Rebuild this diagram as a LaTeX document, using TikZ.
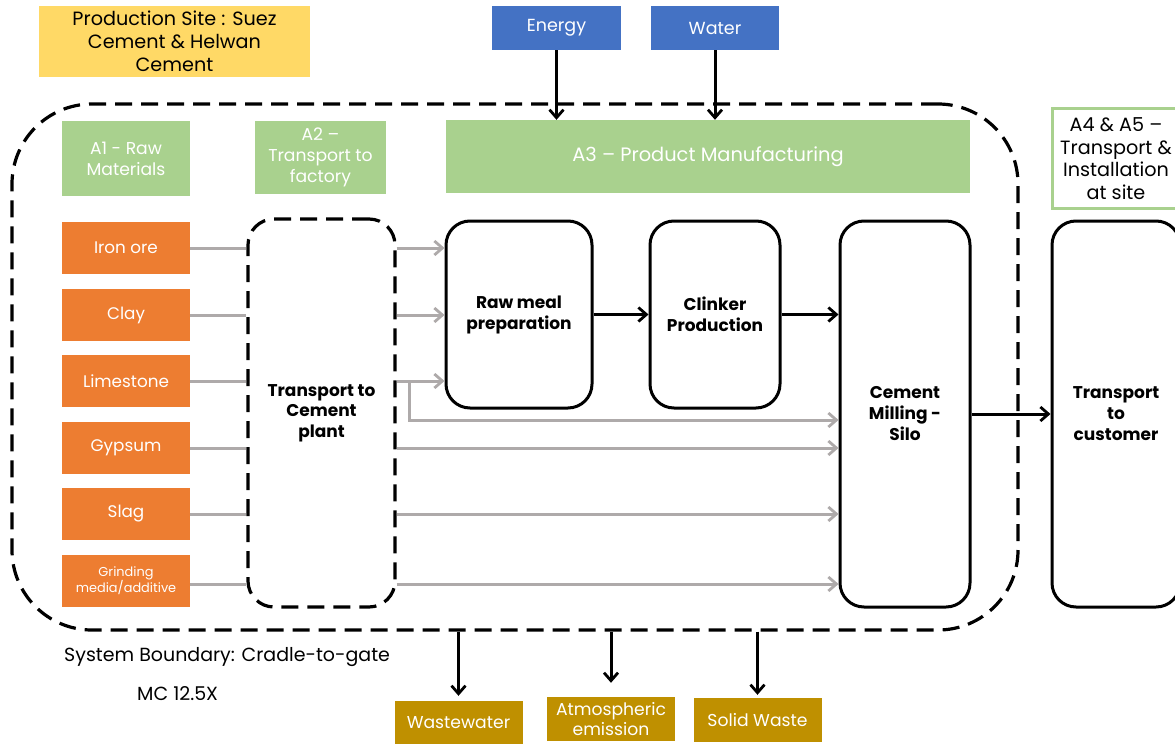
\documentclass[tikz,border=0pt]{standalone}
\usepackage{fontspec}
\setmainfont{Poppins}
\usetikzlibrary{arrows.meta}
\definecolor{yel}{HTML}{FFD966}
\definecolor{grn}{HTML}{A9D18E}
\definecolor{blu}{HTML}{4472C4}
\definecolor{org}{HTML}{ED7D31}
\definecolor{gld}{HTML}{BF9000}
\definecolor{gry}{HTML}{AEAAAA}
\tikzset{
  fillbox/.style={draw=none, inner sep=0pt, align=center, text=white},
  proc/.style={draw=black, line width=3pt, rounded corners=24pt, align=center, font=\bfseries\fontsize{17}{21}\selectfont, inner sep=0pt},
  bnd/.style={draw=black, line width=3.2pt, dash pattern=on 17pt off 9pt},
  blk/.style={draw=black, line width=3pt, -{Straight Barb[length=8pt,width=14pt,line width=2.8pt]}},
  gline/.style={draw=gry, line width=3pt},
  garr/.style={draw=gry, line width=3pt, -{Straight Barb[length=8pt,width=14pt,line width=2.8pt]}},
  rm/.style={fillbox, fill=org, minimum width=128pt, minimum height=52pt, font=\fontsize{16.8}{20}\selectfont},
  outbox/.style={fillbox, fill=gld, minimum width=128pt, minimum height=44pt, font=\fontsize{17.2}{20}\selectfont},
}
\begin{document}
\begin{tikzpicture}[x=1pt,y=-1pt]
\useasboundingbox (0,0) rectangle (1175,744);
% production site
\node[fillbox, fill=yel, text=black, minimum width=271pt, minimum height=71pt, font=\fontsize{19.2}{23}\selectfont] (site) at (174.5,41.5) {Production Site : Suez\\Cement \& Helwan\\Cement};
% boundary
\node[bnd, rounded corners=80pt, minimum width=1006pt, minimum height=526pt, inner sep=0pt] (boundary) at (515,367) {};
% phase headers
\node[fillbox, fill=grn, minimum width=128pt, minimum height=75pt, font=\fontsize{17.2}{21}\selectfont] (a1) at (126,158.5) {A1 - Raw\\Materials};
\node[fillbox, fill=grn, minimum width=131pt, minimum height=73pt, font=\fontsize{17.2}{21}\selectfont] (a2) at (320.5,157.5) {A2 –\\Transport to\\factory};
\node[fillbox, fill=grn, minimum width=524pt, minimum height=73pt, font=\fontsize{19.4}{22}\selectfont] (a3) at (708,156.5) {A3 – Product Manufacturing};
\node[draw=grn, line width=3pt, fill=white, inner sep=0pt, align=center, minimum width=128pt, minimum height=100pt, font=\fontsize{19.2}{22.5}\selectfont] (a45) at (1116,158.5) {A4 \& A5 –\\Transport \&\\Installation\\at site};
% inputs
\node[fillbox, fill=blu, minimum width=129pt, minimum height=44pt, font=\fontsize{17.5}{20}\selectfont] (energy) at (556.5,28) {Energy};
\node[fillbox, fill=blu, minimum width=128pt, minimum height=44pt, font=\fontsize{17.5}{20}\selectfont] (water) at (715,28) {Water};
% raw materials
\node[rm] (iron) at (126,248) {Iron ore};
\node[rm] (clay) at (126,315) {Clay};
\node[rm] (lime) at (126,381) {Limestone};
\node[rm] (gyp) at (126,448) {Gypsum};
\node[rm] (slag) at (126,514) {Slag};
\node[rm, font=\fontsize{12.9}{15.5}\selectfont] (grind) at (126,580.5) {Grinding\\media/additive};
% transport
\node[bnd, rounded corners=26pt, minimum width=147pt, minimum height=388pt, inner sep=0pt, align=center, font=\bfseries\fontsize{17}{20.5}\selectfont] (trans) at (321.5,413) {Transport to\\Cement\\plant};
% processes
\node[proc, minimum width=146pt, minimum height=187pt] (raw) at (519,314.5) {Raw meal\\preparation};
\node[proc, minimum width=130pt, minimum height=187pt] (clink) at (715,314.5) {Clinker\\Production};
\node[proc, minimum width=130pt, minimum height=386pt] (mill) at (905,414) {Cement\\Milling -\\Silo};
\node[proc, minimum width=128pt, minimum height=386pt] (cust) at (1116,414) {Transport\\to\\customer};
% outputs
\node[outbox] (ww) at (458.5,723) {Wastewater};
\node[outbox] (atm) at (611,719) {Atmospheric\\emission};
\node[outbox] (sw) at (757.5,720) {Solid Waste};
% texts
\node[font=\fontsize{19}{22}\selectfont, anchor=west, inner sep=0pt] (sb) at (64,657) {System Boundary: Cradle-to-gate};
\node[font=\fontsize{19}{22}\selectfont, anchor=west, inner sep=0pt] (mc) at (137,694) {MC 12.5X};
% input arrows
\draw[blk] (energy.south) -- (energy.south |- a3.north);
\draw[blk] (water.south) -- (water.south |- a3.north);
% gray lines raw materials -> transport
\foreach \n in {iron,clay,lime,gyp,slag}
  \draw[gline] (\n.east) -- (\n.east -| trans.west);
\draw[gline] ([yshift=-3.5pt]grind.east) -- ([yshift=-3.5pt]grind.east -| trans.west);
% transport -> raw meal
\foreach \n in {iron,clay,lime}
  \draw[garr] (\n.east -| trans.east) -- (\n.east -| raw.west);
\coordinate (br) at (409,381);
\coordinate (br2) at (409,420);
\draw[garr] (br) -- (br2) -- (br2 -| mill.west);
\draw[garr] (gyp.east -| trans.east) -- (gyp.east -| mill.west);
\draw[garr] (slag.east -| trans.east) -- (slag.east -| mill.west);
\draw[garr] ([yshift=-3.5pt]grind.east -| trans.east) -- ([yshift=-3.5pt]grind.east -| mill.west);
% process chain
\draw[blk] (raw.east) -- (clink.west);
\draw[blk] (clink.east) -- (clink.east -| mill.west);
\draw[blk] (mill.east) -- (cust.west);
% outputs
\draw[blk] (ww.north |- boundary.south) -- ([yshift=5pt]ww.north);
\draw[blk] (atm.north |- boundary.south) -- ([yshift=14pt]atm.north);
\draw[blk] (sw.north |- boundary.south) -- ([yshift=3pt]sw.north);
\end{tikzpicture}
\end{document}
